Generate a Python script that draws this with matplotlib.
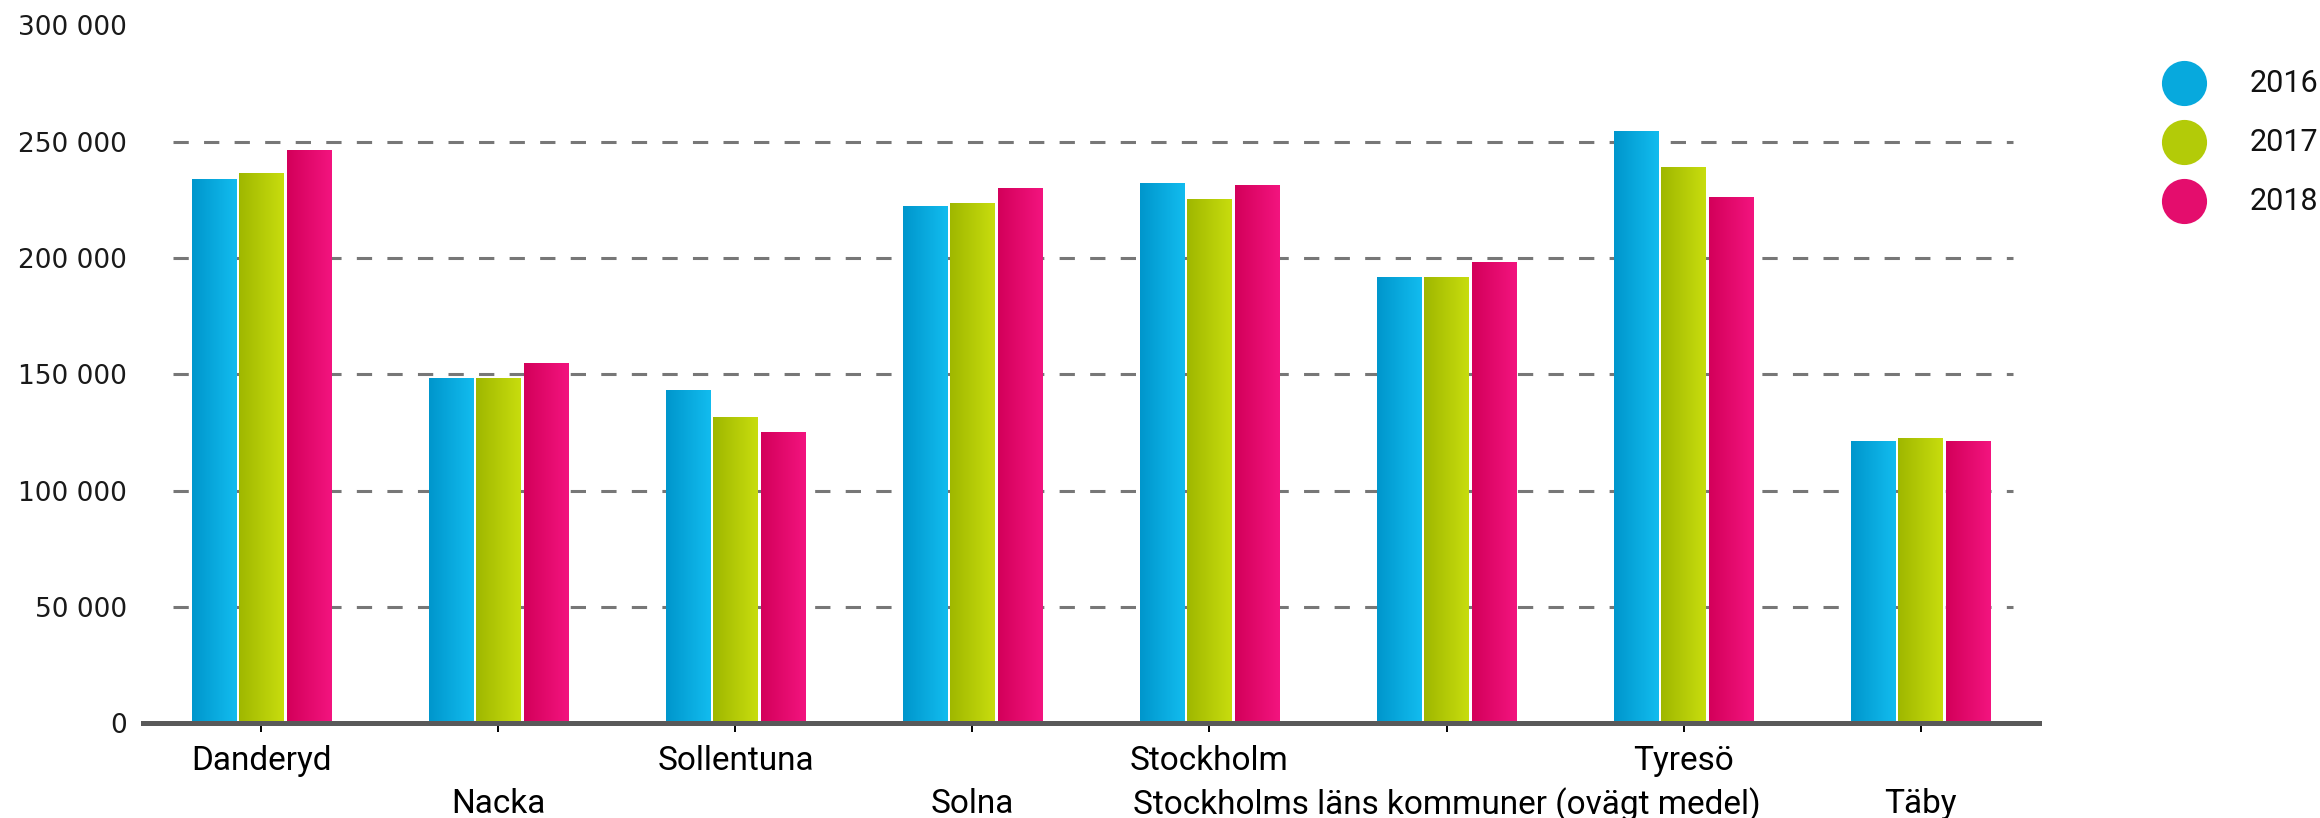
import numpy as np
import matplotlib
matplotlib.use('Agg')
import matplotlib.pyplot as plt
from matplotlib import font_manager
from matplotlib.colors import LinearSegmentedColormap
from matplotlib.lines import Line2D

########################################
# DATA

categories = ['Danderyd', 'Nacka', 'Sollentuna', 'Solna', 'Stockholm',
              'Stockholms läns kommuner (ovägt medel)', 'Tyresö', 'Täby']
years = ['2016', '2017', '2018']
values_2016 = [233500, 148000, 142900, 222000, 232000, 191600, 254500, 121000]
values_2017 = [236100, 148000, 131400, 223300, 225100, 191600, 239000, 122300]
values_2018 = [246300, 154400, 125000, 229700, 230900, 198000, 226100, 121000]
yticks = [0, 50000, 100000, 150000, 200000, 250000, 300000]

series = [values_2016, values_2017, values_2018]
colors_left = ['#0096cc', '#9fb700', '#d3005a']
colors_right = ['#12bcef', '#c8dd0e', '#f3147f']
colors_mid = ['#07a9dd', '#b3cb08', '#e40d6d']

########################################
# FONTS

installed = {f.name for f in font_manager.fontManager.ttflist}
label_font = 'Liberation Sans Narrow' if 'Liberation Sans Narrow' in installed else 'Roboto'

########################################
# FIGURE

fig = plt.figure(figsize=(23.2, 8.18), dpi=100)
ax = fig.add_axes([0.0616, 0.116, 0.8173, 0.853])

x = np.arange(len(categories))
slot = 0.2
bar_w = 0.188
gradient = np.linspace(0, 1, 256).reshape(1, -1)

for j, vals in enumerate(series):
    bars = ax.bar(x + (j - 1) * slot, vals, width=bar_w,
                  color='none', edgecolor='none', zorder=2)
    cmap = LinearSegmentedColormap.from_list(f'g{j}', [colors_left[j], colors_right[j]])
    for b in bars:
        x0, w, h = b.get_x(), b.get_width(), b.get_height()
        ax.imshow(gradient, cmap=cmap, extent=[x0, x0 + w, 0, h],
                  aspect='auto', interpolation='bilinear', zorder=2)

# dashed grid, inset from the axis ends
for v in yticks[1:-1]:
    ax.plot([-0.373, 7.39], [v, v], color='#777777', linewidth=2.2,
            linestyle=(0, (5, 5)), zorder=1, solid_capstyle='butt')

ax.set_xlim(-0.5, len(categories) - 0.5)
ax.set_ylim(0, 300000)

for side in ['top', 'right', 'left']:
    ax.spines[side].set_visible(False)
ax.spines['bottom'].set_linewidth(3.6)
ax.spines['bottom'].set_color('#595959')
ax.spines['bottom'].set_zorder(3)

ax.set_yticks(yticks)
ax.set_yticklabels([f'{v:,}'.replace(',', ' ') for v in yticks],
                   fontfamily='DejaVu Sans', fontsize=19, color='#1a1a1a')
ax.tick_params(axis='y', length=0, pad=11.5)

ax.set_xticks(x)
ax.set_xticklabels(categories, fontfamily=label_font, fontsize=24, color='black')
ax.tick_params(axis='x', length=6.5, width=1.4, color='black')
for i, t in enumerate(ax.xaxis.get_major_ticks()):
    if i % 2 == 1:
        t.tick1line.set_markersize(10.8)
        t.set_pad(40)
    else:
        t.set_pad(9.3)

# legend: circles + year labels at the right
legend_y = [0.8985, 0.8264, 0.7537]
for yr, col, yy in zip(years, colors_mid, legend_y):
    fig.add_artist(Line2D([0.9414], [yy], marker='o', markersize=32.5,
                          color=col, markeredgewidth=0, linestyle='None',
                          transform=fig.transFigure))
    fig.text(0.9698, yy, yr, fontfamily=label_font, fontsize=22,
             color='#111111', ha='left', va='center')

fig.savefig('out.png', dpi=100)
